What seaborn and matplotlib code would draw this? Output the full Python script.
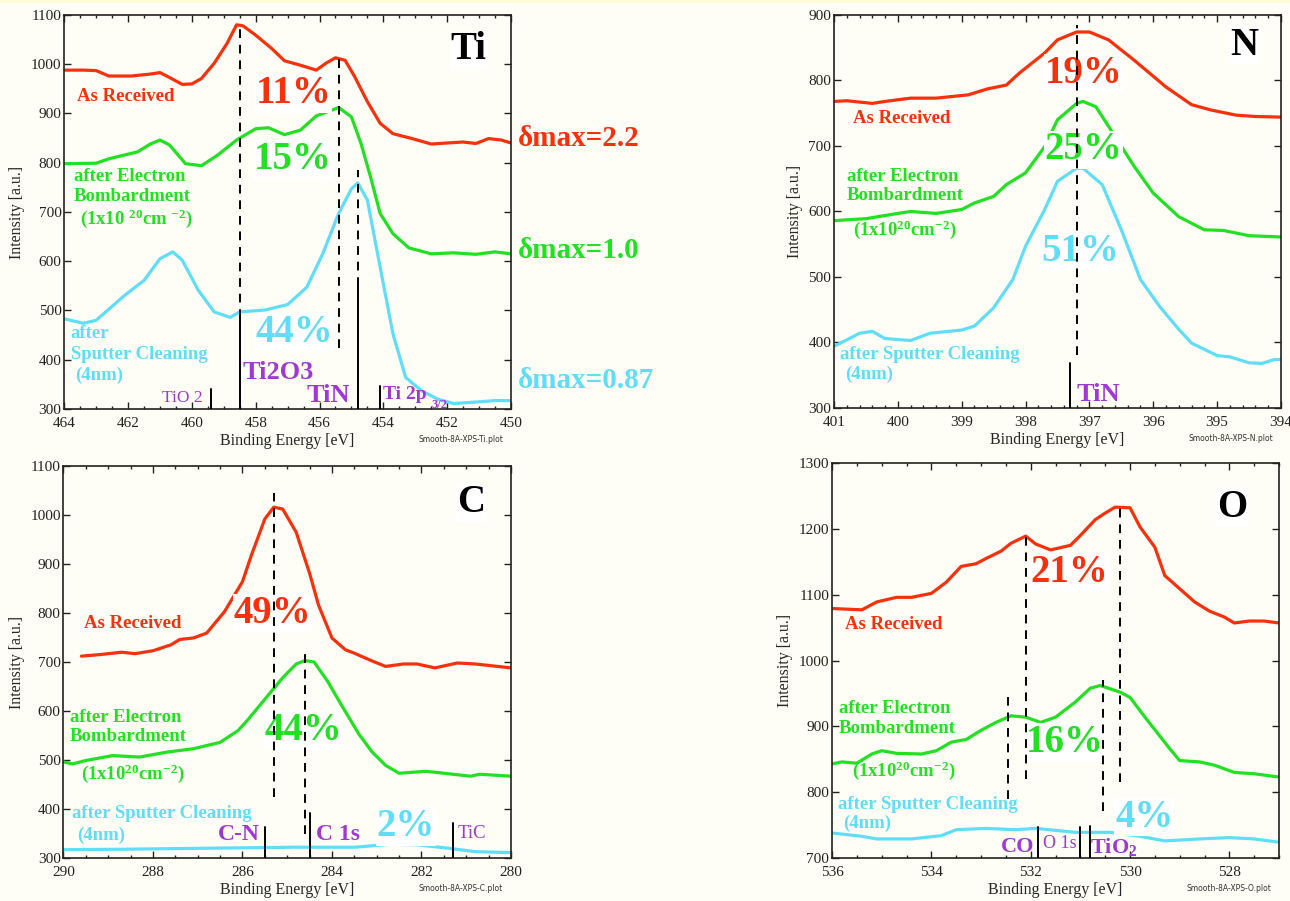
import matplotlib
matplotlib.use("Agg")
import matplotlib.pyplot as plt
from matplotlib.ticker import MultipleLocator
import pandas as pd
import seaborn as sns

# ---------------------------------------------------------------- data
STAGES = ["As Received", "after Electron Bombardment", "after Sputter Cleaning"]

# Ti 2p
TI_BE_RED = [464.0, 463.4, 463.0, 462.6, 461.9, 461.3, 461.0, 460.7, 460.3, 460.0, 459.7, 459.3,
             458.9, 458.6, 458.4, 458.0, 457.5, 457.1, 456.6, 456.1, 455.8, 455.5, 455.2, 454.9,
             454.5, 454.1, 453.7, 453.1, 452.5, 452.0, 451.5, 451.1, 450.7, 450.3, 450.0]
TI_RED = [988, 988, 987, 976, 976, 980, 983, 973, 959, 960, 971, 1002,
          1042, 1080, 1078, 1059, 1032, 1007, 998, 988, 1002, 1013, 1008, 975,
          924, 880, 859, 849, 838, 840, 842, 839, 849, 846, 840]
TI_BE_GREEN = [464.0, 463.0, 462.6, 461.7, 461.3, 461.0, 460.7, 460.2, 459.7, 459.2, 458.6, 458.0,
               457.6, 457.1, 456.6, 456.1, 455.4, 455.0, 454.7, 454.4, 454.1, 453.7, 453.2, 452.5,
               451.8, 451.1, 450.5, 450.0]
TI_GREEN = [798, 799, 808, 822, 838, 846, 836, 798, 794, 815, 846, 869,
            871, 857, 866, 895, 912, 893, 839, 771, 697, 656, 627, 615,
            617, 614, 619, 615]
TI_BE_CYAN = [464.0, 463.4, 463.0, 462.1, 461.5, 461.0, 460.6, 460.3, 459.8, 459.3, 458.8, 458.5,
              457.7, 457.0, 456.4, 455.9, 455.4, 455.0, 454.8, 454.5, 454.1, 453.7, 453.3, 452.8,
              452.3, 451.8, 451.1, 450.5, 450.0]
TI_CYAN = [483, 474, 480, 531, 561, 605, 619, 602, 541, 497, 486, 497,
           501, 512, 547, 615, 697, 747, 759, 724, 588, 453, 364, 337,
           320, 311, 314, 317, 317]

# N 1s
N_BE_RED = [401.0, 400.8, 400.4, 400.2, 399.8, 399.4, 399.1, 398.9, 398.6, 398.3, 398.1, 397.7,
            397.5, 397.2, 397.0, 396.7, 396.3, 395.8, 395.4, 395.1, 394.7, 394.4, 394.0]
N_RED = [768, 769, 765, 768, 773, 773, 776, 778, 787, 793, 811, 842,
         862, 874, 874, 862, 831, 790, 763, 755, 747, 745, 744]
N_BE_GREEN = [401.0, 400.5, 400.0, 399.8, 399.4, 399.0, 398.8, 398.5, 398.3, 398.0, 397.7, 397.5,
              397.2, 397.1, 396.9, 396.7, 396.3, 396.0, 395.6, 395.2, 394.9, 394.5, 394.0]
N_GREEN = [586, 589, 597, 600, 597, 603, 613, 623, 641, 659, 699, 740,
           765, 768, 760, 730, 669, 628, 592, 572, 571, 563, 561]
N_BE_CYAN = [401.0, 400.6, 400.4, 400.2, 399.8, 399.5, 399.0, 398.8, 398.5, 398.2, 398.0, 397.7,
             397.5, 397.2, 397.1, 396.8, 396.5, 396.2, 395.9, 395.6, 395.4, 395.0, 394.8, 394.5,
             394.3, 394.1, 394.0]
N_CYAN = [394, 414, 417, 406, 403, 414, 419, 425, 453, 496, 547, 603,
          646, 666, 666, 641, 572, 496, 455, 420, 399, 380, 378, 369,
          368, 374, 374]

# C 1s
C_BE_RED = [289.6, 289.2, 288.7, 288.4, 288.0, 287.6, 287.4, 287.1, 286.8, 286.4, 286.0, 285.8,
            285.5, 285.3, 285.1, 284.8, 284.5, 284.3, 284.0, 283.7, 283.5, 283.1, 282.8, 282.4,
            282.1, 281.7, 281.2, 280.8, 280.0]
C_RED = [712, 715, 720, 717, 723, 735, 746, 749, 759, 803, 864, 918,
         992, 1016, 1012, 965, 881, 816, 749, 725, 718, 702, 691, 696,
         696, 688, 698, 696, 688]
C_BE_GREEN = [290.0, 289.8, 289.5, 288.9, 288.3, 287.7, 287.1, 286.5, 286.1, 285.9, 285.5, 285.1,
              284.8, 284.6, 284.4, 284.1, 283.8, 283.4, 283.1, 282.8, 282.5, 281.9, 281.4, 280.9,
              280.7, 280.0]
C_GREEN = [496, 492, 499, 509, 506, 516, 523, 536, 560, 580, 624, 668,
           696, 703, 700, 661, 614, 553, 516, 489, 473, 477, 472, 467,
           471, 467]
C_BE_CYAN = [290.0, 288.6, 286.8, 284.9, 283.5, 282.7, 282.1, 281.4, 280.8, 280.0]
C_CYAN = [317, 318, 320, 322, 322, 328, 327, 320, 313, 311]

# O 1s
O_BE_RED = [536.0, 535.4, 535.1, 534.7, 534.4, 534.0, 533.7, 533.4, 533.1, 532.9, 532.6, 532.4,
            532.1, 531.9, 531.6, 531.2, 531.0, 530.7, 530.5, 530.3, 530.0, 529.8, 529.5, 529.3,
            529.0, 528.7, 528.4, 528.1, 527.9, 527.6, 527.3, 527.0]
O_RED = [1079, 1077, 1089, 1096, 1096, 1102, 1119, 1143, 1147, 1155, 1166, 1178,
         1189, 1177, 1168, 1175, 1190, 1214, 1224, 1233, 1232, 1203, 1172, 1129,
         1109, 1089, 1075, 1066, 1057, 1060, 1060, 1057]
O_BE_GREEN = [536.0, 535.8, 535.5, 535.2, 535.0, 534.7, 534.2, 533.9, 533.6, 533.3, 533.0, 532.7,
              532.4, 532.1, 531.8, 531.5, 531.1, 530.8, 530.6, 530.2, 530.0, 529.7, 529.2, 529.0,
              528.6, 528.3, 527.9, 527.5, 527.0]
O_GREEN = [843, 846, 844, 858, 863, 859, 858, 863, 876, 880, 894, 906,
           916, 914, 906, 914, 937, 958, 962, 952, 944, 914, 866, 848,
           846, 841, 830, 828, 823]
O_BE_CYAN = [536.0, 535.4, 535.1, 534.4, 533.8, 533.5, 532.9, 532.3, 531.9, 531.1, 530.4, 529.8,
             529.3, 528.6, 528.0, 527.5, 527.0]
O_CYAN = [738, 733, 729, 729, 734, 743, 745, 743, 745, 739, 739, 733,
          726, 729, 731, 729, 724]

# ---------------------------------------------------------------- style
RED = "#f8300c"
GREEN = "#22e022"
CYAN = "#60def8"
PURPLE = "#a238d4"
BG = "#fefef7"
PALETTE = dict(zip(STAGES, [RED, GREEN, CYAN]))

sns.set_theme(style="ticks")
plt.rcParams.update({
    "font.family": ["Liberation Serif", "DejaVu Serif"],
    "mathtext.fontset": "custom",
    "mathtext.rm": "Liberation Serif",
    "mathtext.bf": "Liberation Serif:bold",
    "mathtext.it": "Liberation Serif:italic",
    "figure.facecolor": BG,
    "axes.facecolor": BG,
    "axes.edgecolor": "#222222",
    "axes.linewidth": 1.2,
    "xtick.color": "#222222",
    "ytick.color": "#222222",
    "xtick.labelsize": 11,
    "ytick.labelsize": 11,
    "axes.labelsize": 11.5,
    "lines.solid_joinstyle": "round",
    "lines.solid_capstyle": "round",
})

fig = plt.figure(figsize=(12.9, 9.01), dpi=100)
fig.patches.append(plt.Rectangle((0, 0.9965), 1, 0.0035, transform=fig.transFigure,
                                 facecolor="#fffbd8", edgecolor="none", zorder=0))

ax_ti = fig.add_axes([0.0498, 0.5461, 0.3463, 0.4373])
ax_n = fig.add_axes([0.6465, 0.5472, 0.3465, 0.4362])
ax_c = fig.add_axes([0.0492, 0.0477, 0.3469, 0.4351])
ax_o = fig.add_axes([0.6450, 0.0477, 0.3465, 0.4384])


def draw_panel(ax, curves, xlim, ylim, xmajor, xminor, fname):
    frames = [pd.DataFrame({"be": be, "intensity": y, "stage": st})
              for st, (be, y) in zip(STAGES, curves)]
    df = pd.concat(frames, ignore_index=True)
    sns.lineplot(data=df, x="be", y="intensity", hue="stage", palette=PALETTE,
                 estimator=None, sort=False, linewidth=2.3, legend=False, ax=ax, zorder=2)
    ax.set_xlim(*xlim)
    ax.set_ylim(*ylim)
    ax.xaxis.set_major_locator(MultipleLocator(xmajor))
    ax.xaxis.set_minor_locator(MultipleLocator(xminor))
    ax.yaxis.set_major_locator(MultipleLocator(100))
    ax.tick_params(which="both", direction="in", top=True, right=True, width=1.0)
    ax.tick_params(which="major", length=5)
    ax.tick_params(axis="x", which="major", pad=6)
    ax.tick_params(axis="y", which="major", pad=2)
    ax.tick_params(which="minor", length=2.5)
    ax.set_xlabel("Binding Energy [eV]", labelpad=2)
    ax.set_ylabel("Intensity [a.u.]", labelpad=4)
    ax.text(0.982, -0.077, fname, transform=ax.transAxes, ha="right", va="center",
            fontsize=5.5, family="DejaVu Sans", color="#333333")


def vline(ax, x, y0, y1, dashed=True):
    ax.plot([x, x], [y0, y1], color="black", lw=1.4,
            ls=(0, (4.5, 3.5)) if dashed else "-", zorder=4)


def pct(ax, x, y, s, color):
    ax.text(x, y, s, color=color, fontsize=28, fontweight="bold", ha="left", va="center",
            zorder=3, bbox=dict(facecolor="white", edgecolor="none", pad=0.5))


def label(ax, x, y, s, color, size=13.5, weight="bold"):
    ax.text(x, y, s, color=color, fontsize=size, fontweight=weight, ha="left", va="center",
            zorder=3)


def element(ax, x, y, s):
    ax.text(x, y, s, color="black", fontsize=28, fontweight="bold", ha="left", va="center",
            zorder=3, bbox=dict(facecolor="white", edgecolor="none", pad=0.5))


DOSE_SP = r"(1x10 $^{\mathbf{20}}$cm $^{\mathbf{-2}}$)"
DOSE = r"(1x10$^{\mathbf{20}}$cm$^{\mathbf{-2}}$)"

# ---------------------------------------------------------------- Ti 2p
draw_panel(ax_ti, [(TI_BE_RED, TI_RED), (TI_BE_GREEN, TI_GREEN), (TI_BE_CYAN, TI_CYAN)],
           (464, 450), (300, 1100), 2, 0.5, "Smooth-8A-XPS-Ti.plot")
vline(ax_ti, 458.5, 485, 1084)
vline(ax_ti, 458.5, 300, 485, dashed=False)
vline(ax_ti, 455.4, 423, 1013)
vline(ax_ti, 454.8, 550, 785)
vline(ax_ti, 454.8, 300, 550, dashed=False)
vline(ax_ti, 459.4, 300, 340, dashed=False)
vline(ax_ti, 454.1, 300, 347, dashed=False)
element(ax_ti, 451.9, 1029, "Ti")
pct(ax_ti, 458.0, 941, "11%", RED)
pct(ax_ti, 458.05, 806, "15%", GREEN)
pct(ax_ti, 458.0, 456, "44%", CYAN)
label(ax_ti, 463.6, 934, "As Received", RED)
label(ax_ti, 463.7, 772, "after Electron", GREEN)
label(ax_ti, 463.7, 731, "Bombardment", GREEN)
label(ax_ti, 463.5, 686, DOSE_SP, GREEN)
label(ax_ti, 463.8, 453, "after", CYAN)
label(ax_ti, 463.8, 411, "Sputter Cleaning", CYAN)
label(ax_ti, 463.65, 368, "(4nm)", CYAN)
label(ax_ti, 460.95, 322, "TiO 2", PURPLE, size=12.5, weight="normal")
label(ax_ti, 458.4, 375, "Ti2O3", PURPLE, size=19)
label(ax_ti, 456.4, 327, "TiN", PURPLE, size=19)
label(ax_ti, 454.0, 330, "Ti 2p", PURPLE, size=14)
label(ax_ti, 452.5, 309, "3/2", PURPLE, size=9)
for y, s, col in [(849, "δmax=2.2", RED), (622, "δmax=1.0", GREEN), (358, "δmax=0.87", CYAN)]:
    ax_ti.text(449.78, y, s, color=col, fontsize=21, fontweight="bold", ha="left",
               va="center", clip_on=False)

# ---------------------------------------------------------------- N 1s
draw_panel(ax_n, [(N_BE_RED, N_RED), (N_BE_GREEN, N_GREEN), (N_BE_CYAN, N_CYAN)],
           (401, 394), (300, 900), 1, 0.2, "Smooth-8A-XPS-N.plot")
vline(ax_n, 397.2, 381, 885)
vline(ax_n, 397.3, 300, 369, dashed=False)
element(ax_n, 394.8, 854, "N")
pct(ax_n, 397.7, 811, "19%", RED)
pct(ax_n, 397.7, 694, "25%", GREEN)
pct(ax_n, 397.75, 539, "51%", CYAN)
label(ax_n, 400.7, 742, "As Received", RED)
label(ax_n, 400.8, 654, "after Electron", GREEN)
label(ax_n, 400.8, 624, "Bombardment", GREEN)
label(ax_n, 400.7, 572, DOSE, GREEN)
label(ax_n, 400.9, 381, "after Sputter Cleaning", CYAN)
label(ax_n, 400.83, 351, "(4nm)", CYAN)
label(ax_n, 397.2, 320, "TiN", PURPLE, size=19)

# ---------------------------------------------------------------- C 1s
draw_panel(ax_c, [(C_BE_RED, C_RED), (C_BE_GREEN, C_GREEN), (C_BE_CYAN, C_CYAN)],
           (290, 280), (300, 1100), 2, 0.5, "Smooth-8A-XPS-C.plot")
vline(ax_c, 285.3, 425, 1045)
vline(ax_c, 284.6, 350, 722)
vline(ax_c, 285.5, 300, 364, dashed=False)
vline(ax_c, 284.5, 300, 391, dashed=False)
vline(ax_c, 281.3, 300, 371, dashed=False)
element(ax_c, 281.2, 1026, "C")
pct(ax_c, 286.2, 800, "49%", RED)
pct(ax_c, 285.5, 560, "44%", GREEN)
pct(ax_c, 283.0, 364, "2%", CYAN)
label(ax_c, 289.55, 779, "As Received", RED)
label(ax_c, 289.86, 587, "after Electron", GREEN)
label(ax_c, 289.86, 548, "Bombardment", GREEN)
label(ax_c, 289.6, 473, DOSE, GREEN)
label(ax_c, 289.8, 391, "after Sputter Cleaning", CYAN)
label(ax_c, 289.7, 347, "(4nm)", CYAN)
label(ax_c, 286.55, 347, "C-N", PURPLE, size=17)
label(ax_c, 284.35, 347, "C 1s", PURPLE, size=17)
label(ax_c, 281.2, 350, "TiC", PURPLE, size=13.5, weight="normal")

# ---------------------------------------------------------------- O 1s
draw_panel(ax_o, [(O_BE_RED, O_RED), (O_BE_GREEN, O_GREEN), (O_BE_CYAN, O_CYAN)],
           (536, 527), (700, 1300), 2, 0.5, "Smooth-8A-XPS-O.plot")
vline(ax_o, 532.1, 820, 1193)
vline(ax_o, 530.2, 815, 1238)
vline(ax_o, 532.45, 790, 944)
vline(ax_o, 530.55, 772, 970)
vline(ax_o, 531.85, 700, 747, dashed=False)
vline(ax_o, 531.0, 700, 747, dashed=False)
vline(ax_o, 530.8, 700, 748, dashed=False)
element(ax_o, 528.25, 1233, "O")
pct(ax_o, 532.0, 1134, "21%", RED)
pct(ax_o, 532.1, 876, "16%", GREEN)
pct(ax_o, 530.3, 762, "4%", CYAN)
label(ax_o, 535.73, 1055, "As Received", RED)
label(ax_o, 535.86, 927, "after Electron", GREEN)
label(ax_o, 535.86, 896, "Bombardment", GREEN)
label(ax_o, 535.6, 832, DOSE, GREEN)
label(ax_o, 535.88, 781, "after Sputter Cleaning", CYAN)
label(ax_o, 535.78, 752, "(4nm)", CYAN)
label(ax_o, 532.6, 716, "CO", PURPLE, size=16)
label(ax_o, 531.75, 722, "O 1s", PURPLE, size=13, weight="normal")
label(ax_o, 530.8, 717, r"TiO$_{\mathbf{2}}$", PURPLE, size=16)

fig.savefig("out.png", dpi=100, facecolor=BG)
